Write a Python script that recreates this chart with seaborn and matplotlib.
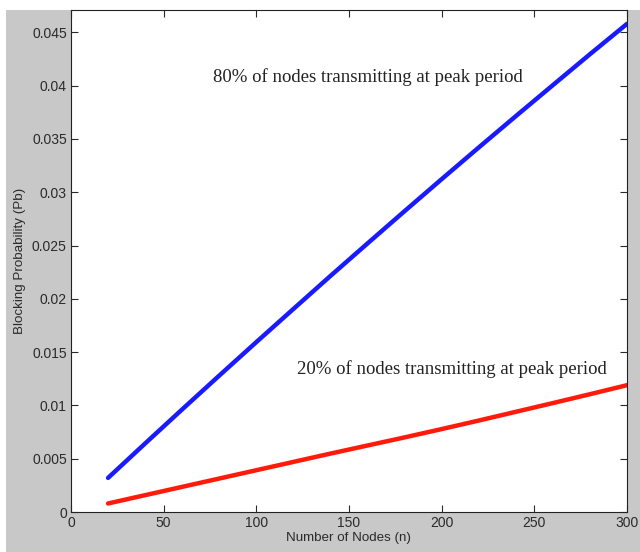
import numpy as np
import pandas as pd
import matplotlib
matplotlib.use("Agg")
import matplotlib.pyplot as plt
import seaborn as sns

nodes = [20, 40, 60, 80, 100, 120, 140, 160, 180, 200, 220, 240, 260, 280, 300]
pb_80 = [0.0032, 0.00643, 0.00963, 0.0128, 0.01594, 0.01905, 0.02215, 0.0252,
         0.02823, 0.03123, 0.0342, 0.03714, 0.04005, 0.04295, 0.0458]
pb_20 = [0.0008, 0.00158, 0.00236, 0.00314, 0.00392, 0.0047, 0.00548, 0.00624,
         0.007, 0.00778, 0.00858, 0.0094, 0.01022, 0.01105, 0.0119]
xticks = [0, 50, 100, 150, 200, 250, 300]
yticks = [0, 0.005, 0.01, 0.015, 0.02, 0.025, 0.03, 0.035, 0.04, 0.045]
ytick_labels = ["0", "0.005", "0.01", "0.015", "0.02", "0.025", "0.03", "0.035", "0.04", "0.045"]

df = pd.DataFrame({
    "n": nodes * 2,
    "pb": pb_80 + pb_20,
    "case": ["80"] * len(nodes) + ["20"] * len(nodes),
})

sns.set_style("white")
plt.rcParams["font.family"] = ["Liberation Sans", "DejaVu Sans"]

fig = plt.figure(figsize=(6.4, 5.52), dpi=100)
fig.patch.set_facecolor("white")
# matlab-ish grey figure background, with the thin white strip on top/left
bg = plt.Rectangle((6 / 640, 0), 1, 542 / 552, transform=fig.transFigure,
                   facecolor="#c8c8c8", edgecolor="none", zorder=-10)
fig.patches.append(bg)

ax = fig.add_axes([71 / 640, 40 / 552, 556 / 640, 502 / 552])
sns.lineplot(data=df, x="n", y="pb", hue="case", palette={"80": "#1a1aff", "20": "#ff1a0a"},
             linewidth=3.2, legend=False, ax=ax)

ax.set_xlim(0, 300)
ax.set_ylim(0, 0.0471)
ax.set_xticks(xticks)
ax.set_xticklabels([str(t) for t in xticks])
ax.set_yticks(yticks)
ax.set_yticklabels(ytick_labels)
ax.tick_params(direction="in", length=5, width=0.8, labelsize=10, colors="#2a2a2a",
               top=True, right=True, bottom=True, left=True, pad=3)
ax.tick_params(axis="x", pad=3)
for s in ax.spines.values():
    s.set_color("#222222")
    s.set_linewidth(0.8)
ax.set_facecolor("white")
ax.set_xlabel("Number of Nodes (n)", fontsize=9.6, color="#2a2a2a", labelpad=1)
ax.set_ylabel("Blocking Probability (Pb)", fontsize=9.6, color="#2a2a2a", labelpad=4)

ax.text(76.5, 0.0408, "80% of nodes transmitting at peak period", family="Liberation Serif",
        fontsize=13.5, color="#222222", va="center", ha="left")
ax.text(122, 0.0134, "20% of nodes transmitting at peak period", family="Liberation Serif",
        fontsize=13.5, color="#222222", va="center", ha="left")

fig.savefig("out.png", dpi=100, facecolor=fig.get_facecolor())
